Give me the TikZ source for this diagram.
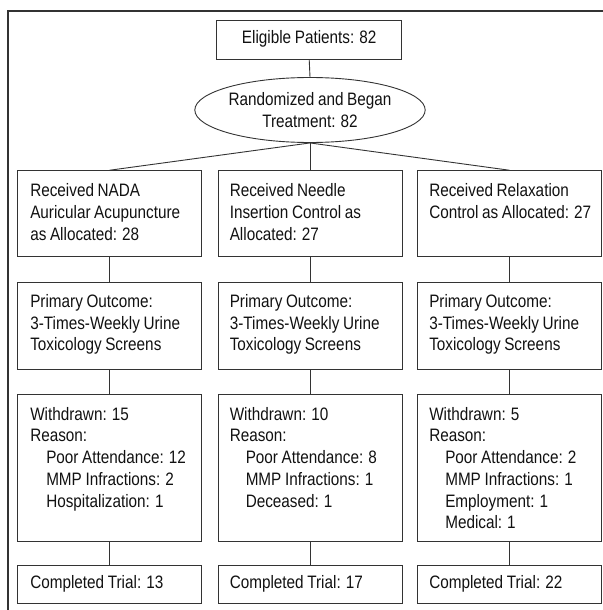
\documentclass[tikz,border=0pt]{standalone}
\usepackage{fontspec}
\setmainfont{Liberation Sans}[FakeStretch=0.85,WordSpace=0.85]
\usetikzlibrary{shapes.geometric}
\definecolor{linec}{HTML}{333333}
\definecolor{textc}{HTML}{111111}
\begin{document}
\begin{tikzpicture}[x=1pt,y=-1pt,
  box/.style={draw=linec, line width=0.9pt, rectangle, inner sep=0pt, minimum width=184pt},
  ell/.style={draw=linec, line width=0.9pt, ellipse, inner sep=0pt, minimum width=228pt, minimum height=65pt, align=center, text=textc, font=\fontsize{18}{21.7}\selectfont},
  txt/.style={anchor=north west, inner sep=0pt, align=left, text=textc, font=\fontsize{18}{21.7}\selectfont},
  ctxt/.style={inner sep=0pt, text=textc, font=\fontsize{18}{21.7}\selectfont},
  conn/.style={draw=linec, line width=0.9pt},
  frame/.style={draw=linec, line width=1.6pt}
]
\useasboundingbox (0,0) rectangle (602,610);
\coordinate (ftr) at (603,11);
\coordinate (ftl) at (8,11);
\coordinate (fbl) at (8,611);
\draw[frame] (ftr) -- (ftl) -- (fbl);

% top
\node[box, minimum width=185pt, minimum height=38.3pt] (elig) at (309.2,39.85) {};
\node[ctxt] (eligt) at ([yshift=1pt]elig.center) {Eligible Patients: 82};
\node[ell] (rand) at (310,110) {Randomized and Began\\Treatment: 82};

% row 1
\node[box, minimum height=86pt] (a1) at (109.5,213.7) {};
\node[box, minimum height=86pt] (b1) at (310,213.7) {};
\node[box, minimum height=86pt] (c1) at (509.5,213.7) {};
% row 2
\node[box, minimum height=86.7pt] (a2) at (109.5,325.65) {};
\node[box, minimum height=86.7pt] (b2) at (310,325.65) {};
\node[box, minimum height=86.7pt] (c2) at (509.5,325.65) {};
% row 3
\node[box, minimum height=147pt] (a3) at (109.5,467.5) {};
\node[box, minimum height=147pt] (b3) at (310,467.5) {};
\node[box, minimum height=147pt] (c3) at (509.5,467.5) {};
% row 4
\node[box, minimum height=37.6pt] (a4) at (109.5,584.5) {};
\node[box, minimum height=37.6pt] (b4) at (310,584.5) {};
\node[box, minimum height=37.6pt] (c4) at (509.5,584.5) {};

% texts
\node[txt] (a1t) at ([shift={(13,13.5)}]a1.north west) {Received NADA\\Auricular Acupuncture\\as Allocated: 28};
\node[txt] (b1t) at ([shift={(12,13.5)}]b1.north west) {Received Needle\\Insertion Control as\\Allocated: 27};
\node[txt] (c1t) at ([shift={(12,13.5)}]c1.north west) {Received Relaxation\\Control as Allocated: 27};

\node[txt] (a2t) at ([shift={(13,12.5)}]a2.north west) {Primary Outcome:\\3-Times-Weekly Urine\\Toxicology Screens};
\node[txt] (b2t) at ([shift={(12,12.5)}]b2.north west) {Primary Outcome:\\3-Times-Weekly Urine\\Toxicology Screens};
\node[txt] (c2t) at ([shift={(12,12.5)}]c2.north west) {Primary Outcome:\\3-Times-Weekly Urine\\Toxicology Screens};

\node[txt] (a3t) at ([shift={(13,13.5)}]a3.north west) {Withdrawn: 15\\Reason:\\\hspace*{16pt}Poor Attendance: 12\\\hspace*{16pt}MMP Infractions: 2\\\hspace*{16pt}Hospitalization: 1};
\node[txt] (b3t) at ([shift={(12,13.5)}]b3.north west) {Withdrawn: 10\\Reason:\\\hspace*{16pt}Poor Attendance: 8\\\hspace*{16pt}MMP Infractions: 1\\\hspace*{16pt}Deceased: 1};
\node[txt] (c3t) at ([shift={(12,13.5)}]c3.north west) {Withdrawn: 5\\Reason:\\\hspace*{16pt}Poor Attendance: 2\\\hspace*{16pt}MMP Infractions: 1\\\hspace*{16pt}Employment: 1\\\hspace*{16pt}Medical: 1};

\node[txt] (a4t) at ([shift={(13,9.5)}]a4.north west) {Completed Trial: 13};
\node[txt] (b4t) at ([shift={(12,9.5)}]b4.north west) {Completed Trial: 17};
\node[txt] (c4t) at ([shift={(12,9.5)}]c4.north west) {Completed Trial: 22};

% connectors
\draw[conn] (elig.south) -- (rand.north);
\draw[conn] (rand.south) -- (a1.north);
\draw[conn] (rand.south) -- (b1.north);
\draw[conn] (rand.south) -- (c1.north);
\draw[conn] (a1.south) -- (a2.north);
\draw[conn] (b1.south) -- (b2.north);
\draw[conn] (c1.south) -- (c2.north);
\draw[conn] (a2.south) -- (a3.north);
\draw[conn] (b2.south) -- (b3.north);
\draw[conn] (c2.south) -- (c3.north);
\draw[conn] (a3.south) -- (a4.north);
\draw[conn] (b3.south) -- (b4.north);
\draw[conn] (c3.south) -- (c4.north);
\end{tikzpicture}
\end{document}
